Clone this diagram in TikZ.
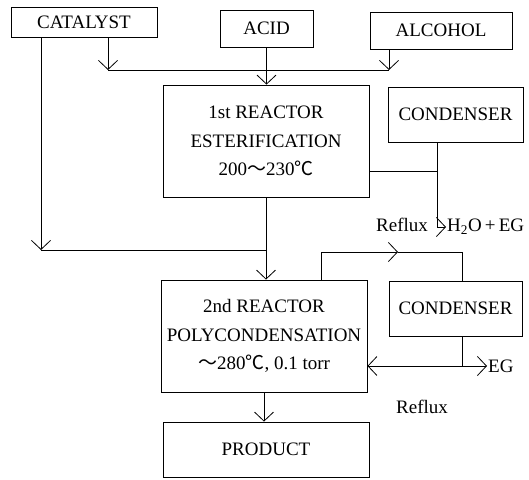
\documentclass[tikz,border=0pt]{standalone}
\usepackage{fontspec}
\setmainfont{Liberation Serif}
\newfontfamily\cjk{Noto Sans CJK JP}
\usepackage{tikz}
\usetikzlibrary{
  positioning,
  arrows.meta
}
\tikzset{
  flowarrow/.style={-{Straight Barb[length=9pt,width=19pt]},line width=0.8pt},
  flowline/.style={line width=0.8pt},
  unit/.style={rectangle,draw,line width=0.8pt,align=center,inner sep=0pt},
  tag/.style={inner sep=1pt}
}
\newcommand{\degc}{{\cjk ℃}}
\newcommand{\wave}{{\cjk ～}}

\begin{document}
\begin{tikzpicture}[x=1pt,y=-1pt,font=\fontsize{19}{28.5}\selectfont]
    \useasboundingbox (0,0) rectangle (529,479);

    % Feeds (top row)
    \node[unit,minimum width=146pt,minimum height=30pt] (cat) at (84,22) {CATALYST};
    \node[unit,minimum width=93pt,minimum height=37pt] (acid) at (266.5,28.5) {ACID};
    \node[unit,minimum width=142pt,minimum height=37pt] (alc) at (441,30.5) {ALCOHOL};

    % Reactors, condensers, product
    \node[unit,minimum width=206pt,minimum height=112pt] (r1) at (266,141) {1st REACTOR\\ESTERIFICATION\\200\wave230\degc};
    \node[unit,minimum width=135pt,minimum height=55pt] (c1) at (455.5,114.5) {CONDENSER};
    \node[unit,minimum width=206pt,minimum height=112pt] (r2) at (264,336) {2nd REACTOR\\POLYCONDENSATION\\\wave280\degc, 0.1 torr};
    \node[unit,minimum width=133pt,minimum height=55pt] (c2) at (455.5,308.5) {CONDENSER};
    \node[unit,minimum width=206pt,minimum height=55pt] (prod) at (266,449.5) {PRODUCT};

    % Labels
    \node[tag] (rfx1) at (402,225) {Reflux};
    \node[tag,anchor=west] (h2o) at (446,227) {H\textsubscript{2}O\,+\,EG};
    \node[tag,anchor=west] (eg) at (487,366) {EG};
    \node[tag] (rfx2) at (422,407) {Reflux};

    % Junction points
    \coordinate (jl) at (108,70);
    \coordinate (jr) at (389,70);
    \coordinate (cj) at (41,250);
    \coordinate (c1j) at (437,171);
    \coordinate (la) at (321,252);
    \coordinate (lm) at (398,252);
    \coordinate (lb) at (462,252);
    \coordinate (c2j) at (462,366);

    % Feed lines
    \draw[flowarrow] (cat.south -| jl) -- (jl);
    \draw[flowarrow] (alc.south -| jr) -- (jr);
    \draw[flowline] (jl) -- (jr);
    \draw[flowarrow] (acid.south) -- (acid.south |- r1.north);
    \draw[flowarrow] (cat.south -| cj) -- (cj);
    \draw[flowline] (cj) -- (cj -| r1.south);

    % First stage
    \draw[flowline] (r1.east |- c1j) -- (c1j);
    \draw[flowarrow] (c1.south -| c1j) |- (h2o.west);
    \draw[flowarrow] (r1.south) -- (r1.south |- r2.north);

    % Second stage
    \draw[flowarrow] (r2.north -| la) |- (lm);
    \draw[flowline] (lm) -- (lb) -- (c2.north -| lb);
    \draw[flowline] (c2.south -| c2j) -- (c2j);
    \draw[flowarrow] (c2j) -- (r2.east |- c2j);
    \draw[flowarrow] (c2j) -- (eg.west);
    \draw[flowarrow] (r2.south) -- (r2.south |- prod.north);
\end{tikzpicture}
\end{document}
